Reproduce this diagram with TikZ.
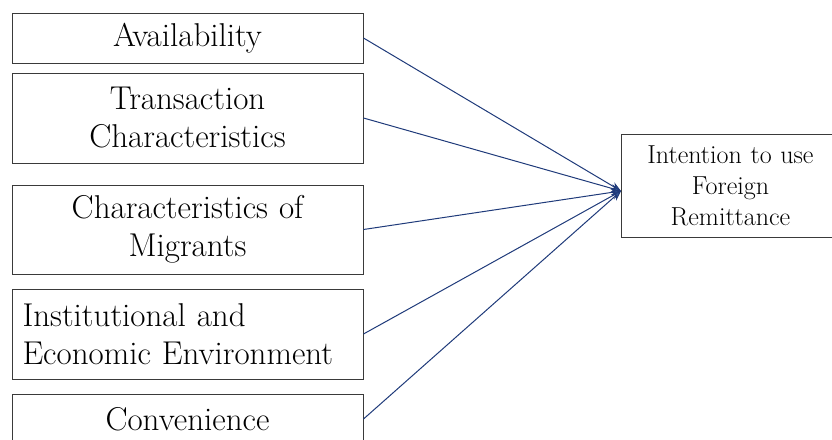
\documentclass[tikz,border=0pt]{standalone}
\usepackage{fontspec}
\usetikzlibrary{arrows.meta}
\definecolor{boxline}{HTML}{3A3A3A}
\definecolor{conn}{HTML}{1F3A7A}
\definecolor{tipblue}{HTML}{2F5597}
\begin{document}
\begin{tikzpicture}[x=1pt,y=-1pt,
  src/.style={draw=boxline, line width=1pt, minimum width=351pt, inner sep=0pt,
    font=\fontsize{33}{38}\selectfont, align=center, text width=330pt},
  srcleft/.style={src, align=left},
  tgt/.style={draw=boxline, line width=1pt, minimum width=219pt, minimum height=103pt,
    inner sep=0pt, font=\fontsize{26}{31}\selectfont, align=center, text width=200pt},
  link/.style={draw=conn, line width=1pt, -{Stealth[length=10pt,width=8pt,fill=tipblue]}}]
\useasboundingbox (0,0) rectangle (832,439);
\node[src, minimum height=50pt] (a) at (187.5,38) {Availability};
\node[src, minimum height=90pt] (b) at (187.5,118) {Transaction\\Characteristics};
\node[src, minimum height=89pt] (c) at (187.5,229.5) {Characteristics of\\Migrants};
\node[srcleft, minimum height=90pt] (d) at (187.5,334) {Institutional and\\Economic Environment};
\node[src, minimum height=50pt] (e) at (187.5,419) {Convenience};
\node[tgt] (t) at (730.5,185.5) {Intention to use\\Foreign\\Remittance};
\coordinate (tip) at (621,191);
\foreach \n in {a,b,c,d,e}{
  \draw[link] (\n.east) -- (tip);
}
\end{tikzpicture}
\end{document}
